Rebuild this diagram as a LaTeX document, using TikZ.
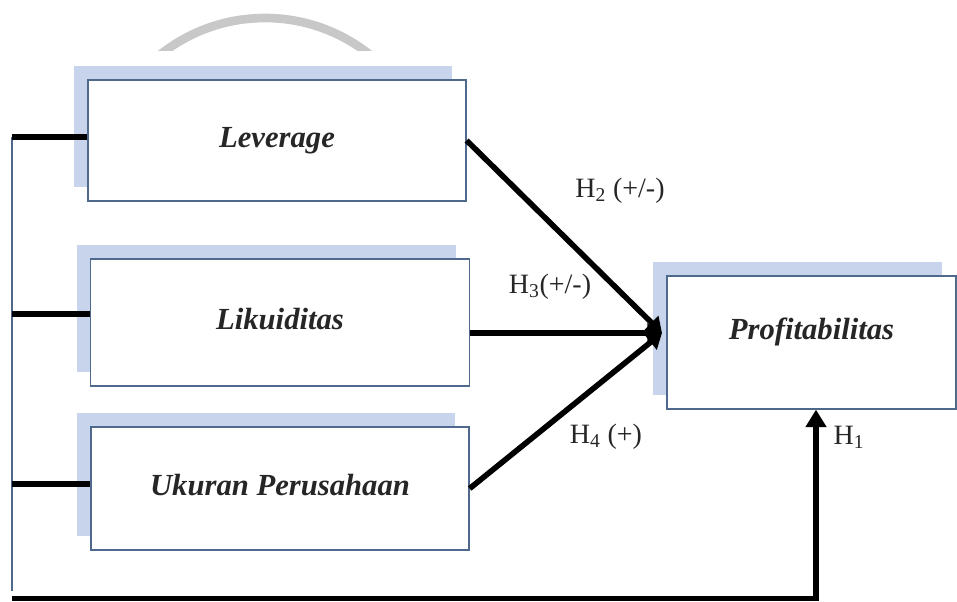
\documentclass[tikz,border=0pt]{standalone}
\usepackage{fontspec}
\setmainfont{Liberation Serif}
\usetikzlibrary{arrows.meta,shadows}
\definecolor{boxline}{RGB}{79,105,140}
\definecolor{boxshade}{RGB}{199,212,235}
\definecolor{arcgray}{RGB}{200,200,200}

\begin{document}
\begin{tikzpicture}[x=0.75pt,y=-0.75pt,
    var/.style={draw=boxline,line width=1pt,fill=white,
      general shadow={fill=boxshade,shadow xshift=-10.5pt,shadow yshift=10.5pt},
      font=\fontsize{23}{27}\selectfont\bfseries\itshape,text=black!85},
    link/.style={line width=4.2pt,-{Triangle[width=14pt,length=11pt]}},
    stub/.style={line width=4pt},
    hyp/.style={font=\fontsize{21}{24}\selectfont,text=black!85}]
  \useasboundingbox (0,0) rectangle (957,601);
  \begin{scope}
    \clip (0,0) rectangle (957,50);
    \draw[arcgray,line width=6.5pt] (265,186) circle (168);
  \end{scope}
  \node[var,minimum width=283.5pt,minimum height=90.75pt] (lev) at (277,140.5) {Leverage};
  \node[var,minimum width=284.25pt,minimum height=95.25pt] (lik) at (280,322.5) {\raisebox{6pt}{Likuiditas}};
  \node[var,minimum width=283.5pt,minimum height=92.25pt] (uku) at (280,488.5) {\raisebox{5pt}{Ukuran Perusahaan}};
  \node[var,minimum width=216.75pt,minimum height=99.75pt] (prof) at (811.5,342.5) {\raisebox{20pt}{Profitabilitas}};
  \coordinate (hub) at (662,333);
  \draw[link] (lev.east) -- (hub);
  \draw[link] (lik.east |- hub) -- (hub);
  \draw[link] (uku.east) -- (hub);
  \coordinate (s1) at (12,137);
  \coordinate (s2) at (12,314);
  \coordinate (s3) at (12,484);
  \coordinate (s0) at (12,591);
  \draw[boxline,line width=1pt] (s1) -- (s0);
  \foreach \s/\n in {s1/lev,s2/lik,s3/uku}
  \draw[stub] (\s) -- (\s -| \n.west);
  \coordinate (base) at (12,598.5);
  \coordinate (turn) at (816,598.5);
  \draw[stub,-{Triangle[width=15pt,length=13pt]}] (base) -- (turn) -- (turn |- prof.south);
  \node[hyp] (h2) at (620,191) {H\textsubscript{2} (+/-)};
  \node[hyp] (h3) at (550,287) {H\textsubscript{3}(+/-)};
  \node[hyp] (h4) at (606,437) {H\textsubscript{4} (+)};
  \node[hyp] (h1) at (849,437) {H\textsubscript{1}};
\end{tikzpicture}
\end{document}
